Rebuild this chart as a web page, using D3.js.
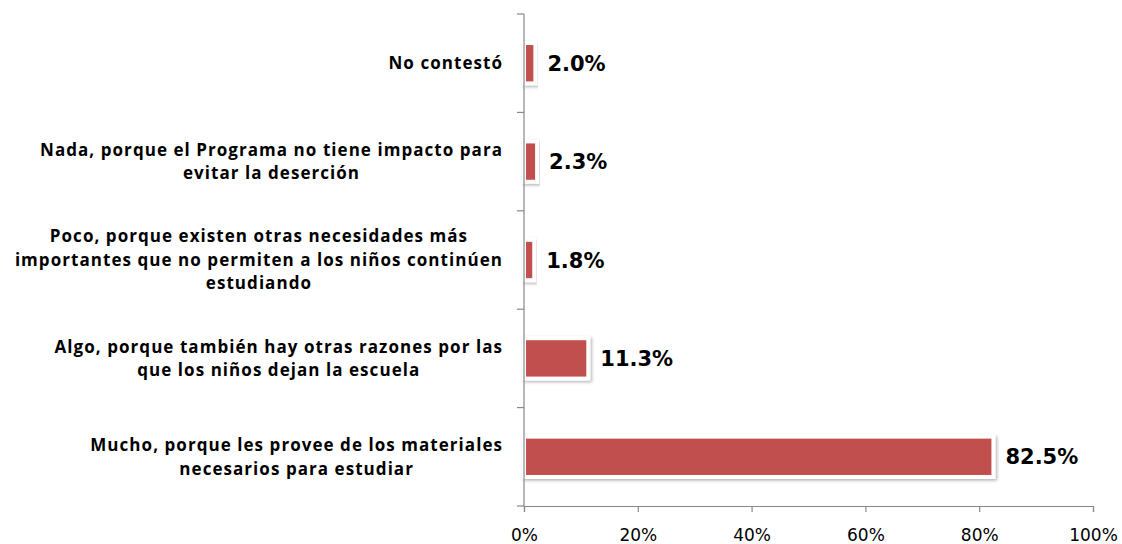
<!DOCTYPE html>
<html><head><meta charset="utf-8">
<script src="https://cdn.jsdelivr.net/npm/d3@7"></script>
<style>body{margin:0;background:#fff}svg{display:block}</style>
</head><body>
<svg id="c" width="1122" height="544"></svg>
<script>
const categories = [
  ["No contestó"],
  ["Nada, porque el Programa no tiene impacto para", "evitar la deserción"],
  ["Poco, porque existen otras necesidades más", "importantes que no permiten a los niños continúen", "estudiando"],
  ["Algo, porque también hay otras razones por las", "que los niños dejan la escuela"],
  ["Mucho, porque les provee de los materiales", "necesarios para estudiar"]
];
const values = [2.0, 2.3, 1.8, 11.3, 82.5];
const tickValues = [0, 20, 40, 60, 80, 100];

const svg = d3.select("#c");
const m = {left: 524, right: 1093, top: 14, bottom: 506};
const x = d3.scaleLinear().domain([0, 100]).range([m.left, m.right]);
const y = d3.scaleBand().domain(d3.range(categories.length)).range([m.top, m.bottom]).paddingInner(0.59).paddingOuter(0.295);
const step = y.step();

const defs = svg.append("defs");
const f = defs.append("filter").attr("id","sh").attr("x","-20%").attr("y","-40%").attr("width","140%").attr("height","180%");
f.append("feDropShadow").attr("dx",1.5).attr("dy",1.5).attr("stdDeviation",1.5).attr("flood-color","#000").attr("flood-opacity",0.3);

// bars
svg.selectAll("rect.bar").data(values).join("rect").attr("class","bar")
  .attr("x", x(0)).attr("y", (d,i)=>y(i))
  .attr("width", d=>x(d)-x(0)).attr("height", y.bandwidth())
  .attr("fill","#C0504D").attr("stroke","#fff").attr("stroke-width",4)
  .attr("filter","url(#sh)");

// value labels
svg.selectAll("text.val").data(values).join("text").attr("class","val")
  .attr("x", d=>x(d)+12).attr("y", (d,i)=>y(i)+y.bandwidth()/2)
  .attr("dy","0.36em")
  .attr("font-family","DejaVu Sans").attr("font-weight","bold").attr("font-size",21)
  .attr("fill","#000").text(d=>d.toFixed(1)+"%");

// y axis
const yAxis = svg.append("g").attr("transform",`translate(${m.left},0)`);
yAxis.append("line").attr("x1",0).attr("x2",0).attr("y1",m.top).attr("y2",m.bottom).attr("stroke","#888").attr("stroke-width",1.2);
yAxis.selectAll("line.t").data(d3.range(categories.length+1)).join("line").attr("class","t")
  .attr("x1",-7).attr("x2",0).attr("y1",d=>m.top+d*step).attr("y2",d=>m.top+d*step)
  .attr("stroke","#888").attr("stroke-width",1.2);

// x axis
const xAxis = svg.append("g").attr("transform",`translate(0,${m.bottom})`)
  .call(d3.axisBottom(x).tickValues(tickValues).tickSize(6).tickPadding(17).tickFormat(d=>d+"%"));
xAxis.select(".domain").attr("stroke","#888").attr("stroke-width",1.2);
xAxis.selectAll(".tick line").attr("stroke","#888").attr("stroke-width",1.2);
xAxis.selectAll(".tick text").attr("font-family","DejaVu Sans").attr("font-size",17).attr("fill","#000");

// category labels
const lh = 23.5;
const rightEdge = 503;
categories.forEach((lines,i)=>{
  const g = svg.append("g");
  const cy = y(i)+y.bandwidth()/2;
  const t = g.append("text").attr("font-family","Open Sans").attr("font-weight","bold").attr("font-size",17).attr("letter-spacing","1.05px").attr("fill","#000").attr("text-anchor","middle");
  const n = lines.length;
  lines.forEach((s,k)=>{
    t.append("tspan").attr("x",0).attr("y", cy + (k-(n-1)/2)*lh).attr("dy","0.35em").text(s);
  });
  const w = d3.max(t.selectAll("tspan").nodes(), nd=>nd.getComputedTextLength());
  t.attr("transform",`translate(${rightEdge - w/2},0)`);
});
</script>
</body></html>
